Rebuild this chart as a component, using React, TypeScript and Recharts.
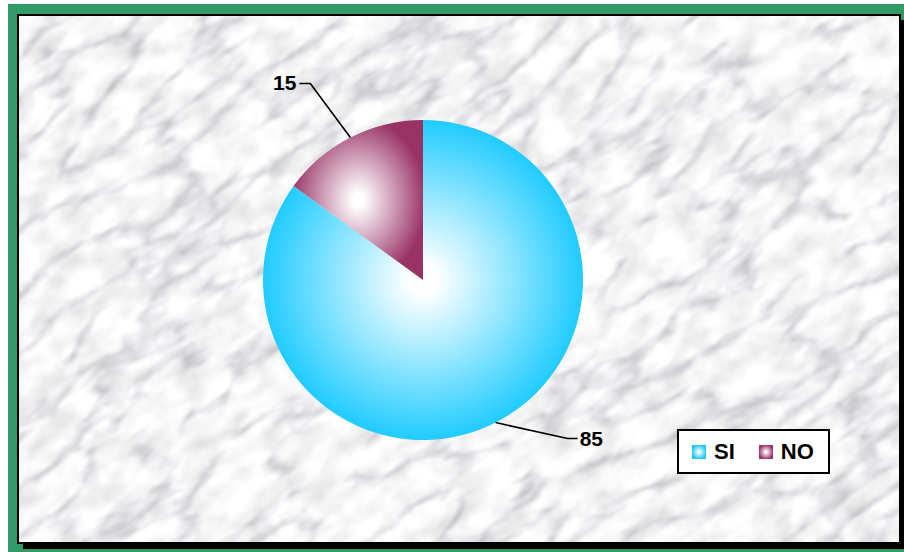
import React from 'react';
import { PieChart, Pie, Cell, Legend } from 'recharts';

const categories = ['SI', 'NO'];
const values = [85, 15];
const edgeColors = ['#17c9ff', '#993366'];

const data = categories.map((name, i) => ({ name, value: values[i] }));

const W = 904;
const H = 552;
const FONT = '"Liberation Sans", Arial, sans-serif';
const RADIAN = Math.PI / 180;

// where each leader line bends, relative to the point on the rim
const LEADER = [
  { dx: 72, dy: 16, tail: 10 },
  { dx: -40, dy: -54, tail: -11 },
];

const renderLabel = (props: any) => {
  const { cx, cy, midAngle, outerRadius, value, index } = props;
  const px = cx + outerRadius * Math.cos(-midAngle * RADIAN);
  const py = cy + outerRadius * Math.sin(-midAngle * RADIAN);
  const l = LEADER[index];
  const ex = px + l.dx;
  const ey = py + l.dy;
  const tx = ex + l.tail;
  const right = l.tail > 0;
  return (
    <g>
      <polyline points={`${px},${py} ${ex},${ey} ${tx},${ey}`} fill="none" stroke="#000" strokeWidth={1.6} />
      <text
        x={right ? tx + 2 : tx - 3}
        y={ey + 7}
        textAnchor={right ? 'start' : 'end'}
        fontFamily={FONT}
        fontWeight="bold"
        fontSize={21}
        fill="#000"
      >
        {value}
      </text>
    </g>
  );
};

const renderLegend = () => (
  <div style={{
    boxSizing: 'border-box',
    width: 153,
    height: 45,
    border: '2px solid #000',
    background: '#fff',
    display: 'flex',
    alignItems: 'center',
    paddingLeft: 13,
    fontFamily: FONT,
    fontWeight: 'bold',
    fontSize: 22,
    color: '#000',
  }}>
    {categories.map((c, i) => (
      <div key={c} style={{ display: 'flex', alignItems: 'center', marginRight: i === 0 ? 24 : 0 }}>
        <svg width={14} height={14} style={{ marginRight: 8 }}>
          <rect x={0} y={0} width={14} height={14} fill={`url(#grad-${c})`} />
        </svg>
        <span>{c}</span>
      </div>
    ))}
  </div>
);

export default function App() {
  return (
    <div style={{ position: 'absolute', left: 0, top: 0, width: W, height: H, background: '#fff' }}>
      <svg width={W} height={H} style={{ position: 'absolute', left: 0, top: 0 }}>
        <defs>
          {categories.map((c, i) => (
            <radialGradient key={c} id={`grad-${c}`} cx="50%" cy="50%" r="52%">
              <stop offset="0%" stopColor="#ffffff" />
              <stop offset="8%" stopColor="#ffffff" />
              <stop offset="100%" stopColor={edgeColors[i]} />
            </radialGradient>
          ))}
          <clipPath id="inner">
            <rect x={19} y={16} width={880} height={526} />
          </clipPath>
          <filter id="marble" x="0" y="0" width="1" height="1">
            <feTurbulence type="turbulence" baseFrequency="0.01 0.025" numOctaves={4} seed={11} result="n1" />
            <feColorMatrix
              in="n1"
              type="matrix"
              values="1.3 0 0 0 0.62  1.3 0 0 0 0.62  1.3 0 0 0 0.64  0 0 0 0 1"
              result="veins"
            />
            <feTurbulence type="fractalNoise" baseFrequency="0.03 0.05" numOctaves={3} seed={4} result="n2" />
            <feColorMatrix
              in="n2"
              type="matrix"
              values="0.5 0 0 0 0.68  0.5 0 0 0 0.68  0.5 0 0 0 0.69  0 0 0 0 1"
              result="blotch"
            />
            <feBlend in="veins" in2="blotch" mode="multiply" result="m" />
            <feGaussianBlur in="m" stdDeviation="1" />
          </filter>
        </defs>
        <rect x={8} y={4} width={896} height={548} fill="#339966" />
        <rect x={23} y={20} width={881} height={529} fill="#000" />
        <rect x={18} y={15} width={882} height={528} fill="#e2e2e6" stroke="#000" strokeWidth={2} />
        <g clipPath="url(#inner)">
          <g transform="rotate(-35 459 279)">
            <rect x={-100} y={-250} width={1120} height={1060} filter="url(#marble)" />
          </g>
        </g>
      </svg>
      <div style={{ position: 'absolute', left: 0, top: 0 }}>
        <PieChart width={W} height={H} margin={{ top: 0, right: 0, bottom: 0, left: 0 }}>
          <Pie
            data={data}
            dataKey="value"
            nameKey="name"
            cx={423}
            cy={280}
            outerRadius={160}
            startAngle={90}
            endAngle={-270}
            stroke="none"
            label={renderLabel}
            labelLine={false}
            isAnimationActive={false}
          >
            {data.map((d) => (
              <Cell key={d.name} fill={`url(#grad-${d.name})`} />
            ))}
          </Pie>
          <Legend
            content={renderLegend}
            wrapperStyle={{ position: 'absolute', left: 677, top: 429, width: 153, height: 45, bottom: 'auto' }}
          />
        </PieChart>
      </div>
    </div>
  );
}
